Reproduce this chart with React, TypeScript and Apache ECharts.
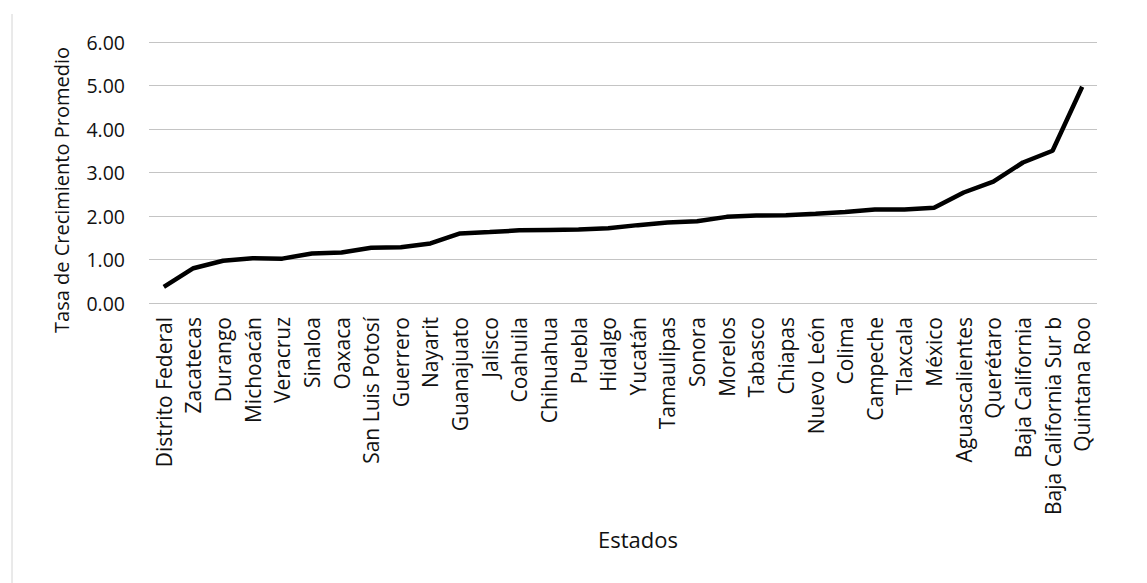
import React, { useEffect, useRef } from "react";
import * as echarts from "echarts";

const states = [
  "Distrito Federal", "Zacatecas", "Durango", "Michoacán", "Veracruz", "Sinaloa",
  "Oaxaca", "San Luis Potosí", "Guerrero", "Nayarit", "Guanajuato", "Jalisco",
  "Coahuila", "Chihuahua", "Puebla", "Hidalgo", "Yucatán", "Tamaulipas", "Sonora",
  "Morelos", "Tabasco", "Chiapas", "Nuevo León", "Colima", "Campeche", "Tlaxcala",
  "México", "Aguascalientes", "Querétaro", "Baja California", "Baja California Sur b",
  "Quintana Roo",
];

const tasa = [
  0.37, 0.8, 0.97, 1.03, 1.02, 1.14, 1.16, 1.27, 1.28, 1.37, 1.6, 1.63, 1.67, 1.68,
  1.69, 1.72, 1.79, 1.85, 1.88, 1.98, 2.01, 2.02, 2.05, 2.09, 2.15, 2.15, 2.19, 2.54,
  2.79, 3.23, 3.5, 4.97,
];

const yMin = 0;
const yMax = 6;
const yStep = 1;

const xTitle = "Estados";
const yTitle = "Tasa de Crecimiento Promedio";

const FONT = "'Open Sans', Lato, sans-serif";

export default function App() {
  const ref = useRef<HTMLDivElement>(null);
  useEffect(() => {
    document.body.style.margin = "0";
    if (!ref.current) return;
    const chart = echarts.init(ref.current, null, { renderer: "svg" });
    chart.setOption({
      animation: false,
      backgroundColor: "#ffffff",
      textStyle: { fontFamily: FONT },
      grid: { left: 149, right: 50, top: 42, bottom: 280 },
      graphic: [
        {
          type: "line",
          shape: { x1: 12, y1: 14, x2: 12, y2: 583 },
          style: { stroke: "#d4d4d4", lineWidth: 1 },
        },
        {
          type: "text",
          x: 61,
          y: 190,
          rotation: Math.PI / 2,
          style: {
            text: yTitle,
            fontSize: 20,
            fontFamily: FONT,
            fill: "#111",
            align: "center",
            verticalAlign: "middle",
          },
        },
        {
          type: "text",
          x: 638,
          y: 539,
          style: {
            text: xTitle,
            fontSize: 22,
            fontFamily: FONT,
            fill: "#111",
            align: "center",
            verticalAlign: "middle",
          },
        },
      ],
      xAxis: {
        type: "category",
        data: states,
        boundaryGap: true,
        axisLine: { show: false },
        axisTick: { show: false },
        axisLabel: {
          rotate: 90,
          interval: 0,
          margin: 14,
          fontSize: 21,
          color: "#111",
          fontFamily: FONT,
        },
      },
      yAxis: {
        type: "value",
        min: yMin,
        max: yMax,
        interval: yStep,
        axisLine: { show: false },
        axisTick: { show: false },
        axisLabel: {
          margin: 24,
          fontSize: 19.5,
          color: "#111",
          fontFamily: FONT,
          formatter: (v: number) => v.toFixed(2),
        },
        splitLine: { lineStyle: { color: "#c4c4c4", width: 1 } },
      },
      series: [
        {
          type: "line",
          data: tasa,
          symbol: "none",
          lineStyle: { color: "#000", width: 4.5 },
        },
      ],
    });
    return () => chart.dispose();
  }, []);
  return <div ref={ref} style={{ width: 1147, height: 583 }} />;
}
